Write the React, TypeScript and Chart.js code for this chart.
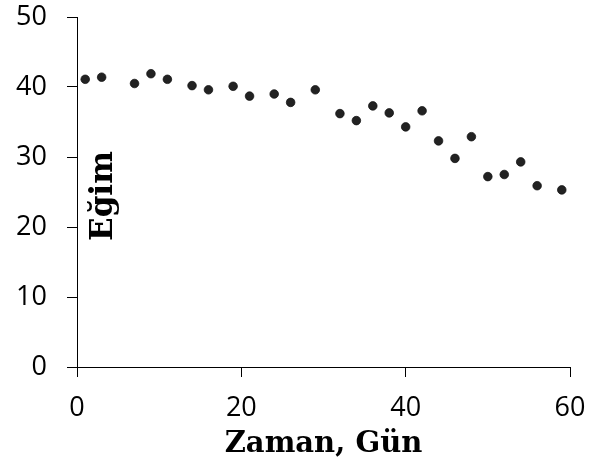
import React, { useEffect, useRef } from "react";
import { Chart, registerables } from "chart.js";

Chart.register(...registerables);

const days = [1, 3, 7, 9, 11, 14, 16, 19, 21, 24, 26, 29, 32, 34, 36, 38, 40, 42, 44, 46, 48, 50, 52, 54, 56, 59];
const slopes = [41.1, 41.4, 40.5, 41.9, 41.1, 40.2, 39.6, 40.1, 38.7, 39.0, 37.8, 39.6, 36.2, 35.2, 37.3, 36.3, 34.3, 36.6, 32.3, 29.8, 32.9, 27.2, 27.5, 29.3, 25.9, 25.3];
const xTitle = "Zaman, Gün";
const yTitle = "Eğim";

const titlePlugin = {
  id: "axisTitles",
  afterDraw(chart: any) {
    const { ctx, chartArea } = chart;
    ctx.save();
    ctx.fillStyle = "#000";
    ctx.textAlign = "center";
    ctx.textBaseline = "alphabetic";
    ctx.font = "bold 29px 'DejaVu Serif'";
    ctx.fillText(xTitle, (chartArea.left + chartArea.right) / 2, chartArea.bottom + 85);
    ctx.font = "bold 31px 'DejaVu Serif'";
    ctx.translate(chartArea.left + 35, (chartArea.top + chartArea.bottom) / 2 + 4);
    ctx.rotate(-Math.PI / 2);
    ctx.fillText(yTitle, 0, 0);
    ctx.restore();
  },
};

export default function App() {
  const ref = useRef<HTMLCanvasElement>(null);
  useEffect(() => {
    if (!ref.current) return;
    const tickFont = { family: "'Open Sans'", size: 27 };
    const chart = new Chart(ref.current, {
      type: "scatter",
      data: {
        datasets: [
          {
            data: days.map((d, i) => ({ x: d, y: slopes[i] })),
            backgroundColor: "#222",
            borderColor: "#111",
            borderWidth: 0.75,
            pointRadius: 4.3,
          },
        ],
      },
      options: {
        animation: false,
        responsive: false,
        maintainAspectRatio: false,
        layout: { padding: 0 },
        plugins: { legend: { display: false }, tooltip: { enabled: false } },
        scales: {
          x: {
            type: "linear",
            min: 0,
            max: 60,
            afterFit: (s: any) => { s.height = 94; s.paddingLeft = 0; s.paddingRight = 28; },
            ticks: { stepSize: 20, color: "#000", font: tickFont, padding: 15, maxRotation: 0 },
            grid: { drawOnChartArea: false, drawTicks: true, tickLength: 10, color: "#000" },
            border: { display: true, color: "#000", width: 1 },
          },
          y: {
            type: "linear",
            min: 0,
            max: 50,
            afterFit: (s: any) => { s.width = 77; s.paddingTop = 17; s.paddingBottom = 0; },
            ticks: { stepSize: 10, color: "#000", font: tickFont, padding: 20 },
            grid: { drawOnChartArea: false, drawTicks: true, tickLength: 10, color: "#000" },
            border: { display: true, color: "#000", width: 1 },
          },
        },
      },
      plugins: [titlePlugin],
    });
    return () => chart.destroy();
  }, []);
  return (
    <div style={{ position: "fixed", left: 0, top: 0, width: 598, height: 461, background: "#fff" }}>
      <canvas ref={ref} width={598} height={461} style={{ width: 598, height: 461 }} />
    </div>
  );
}
